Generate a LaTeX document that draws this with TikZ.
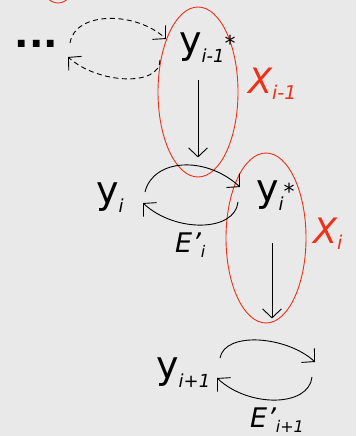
\documentclass[tikz,border=0pt]{standalone}
\usepackage{fontspec}
\setmainfont{DejaVu Sans}
\usetikzlibrary{arrows.meta,shapes.geometric}

\definecolor{xred}{RGB}{238,48,22}
\definecolor{paper}{RGB}{233,233,233}

% point y with index and optional star
\newcommand{\yv}[2]{y\raisebox{-9pt}{\fontsize{18}{18}\selectfont\itshape #1}\raisebox{2pt}{\fontsize{22}{22}\selectfont #2}}
% set X with index
\newcommand{\xv}[1]{\itshape X\raisebox{-6pt}{\fontsize{19}{19}\selectfont #1}}
% edge set E' with index
\newcommand{\ev}[1]{\itshape E'\raisebox{-5pt}{\fontsize{16}{16}\selectfont #1}}

\tikzset{
  yvar/.style={inner sep=0pt, anchor=base west, font=\fontsize{38}{44}\selectfont},
  xlab/.style={inner sep=0pt, anchor=base west, text=xred, font=\fontsize{35}{40}\selectfont},
  elab/.style={inner sep=0pt, anchor=base west, font=\fontsize{27}{32}\selectfont},
  setline/.style={draw=xred, line width=0.9pt, ellipse, minimum width=80pt, minimum height=170pt},
  tip/.style={line width=0.9pt, -{Straight Barb[length=9pt,width=19pt]}}
}

\begin{document}
\begin{tikzpicture}[x=1pt, y=-1pt]
	\fill[paper] (0,0) rectangle (356,436);
	\useasboundingbox (0,0) rectangle (356,436);

	% the sets
	\draw[xred, line width=0.9pt] (58,-17) ellipse [x radius=16pt, y radius=20pt];
	\node[setline] (Sim1) at (198,92) {};
	\node[setline] (Si) at (266,238) {};

	% the points
	\node[yvar] (dots) at (14.5,48) {\bfseries ...};
	\node[yvar] (ym1) at (179,54) {\yv{i-1}{*}};
	\node[yvar] (yi) at (96,203) {\yv{i}{}};
	\node[yvar] (yis) at (256,201) {\yv{i}{*}};
	\node[yvar] (yip1) at (156,378) {\yv{i+1}{}};

	% the labels
	\node[xlab] (Xim1) at (248,93) {\xv{i-1}};
	\node[xlab] (Xi) at (313,243) {\xv{i}};
	\node[elab] (Ei) at (175,252) {\ev{i}};
	\node[elab] (Eip1) at (250,427) {\ev{i+1}};

	% dashed loop
	\draw[tip, dash pattern=on 5pt off 3.5pt] ([xshift=55.5pt,yshift=5pt]dots.base west)
		.. controls +(5,-32) and +(-30,-28) .. ([xshift=-13pt,yshift=15pt]ym1.base west);
	\draw[tip, dash pattern=on 5pt off 3.5pt] ([xshift=-19pt,yshift=-6pt]ym1.base west)
		.. controls +(0,27) and +(30,27) .. ([xshift=53.5pt,yshift=-9pt]dots.base west);

	% vertical steps
	\draw[tip] ([yshift=12pt]Sim1.center) -- ([yshift=20pt]Sim1.south);
	\draw[tip] ([xshift=6pt,yshift=-5pt]Si.center) -- ([xshift=6pt,yshift=5pt]Si.south);

	% loops E'
	\draw[tip] ([xshift=49pt,yshift=11pt]yi.base west)
		.. controls +(8,-33) and +(-35,-32) .. ([xshift=-16pt,yshift=14pt]yis.base west);
	\draw[tip] ([xshift=-18pt,yshift=-1pt]yis.base west)
		.. controls +(-3,30) and +(32,30) .. ([xshift=47pt]yi.base west);
	\draw[tip] ([xshift=64pt,yshift=20pt]yip1.base west)
		.. controls +(5,-27) and +(-28,-26) .. ([xshift=159pt,yshift=16pt]yip1.base west);
	\draw[tip] ([xshift=156pt,yshift=1pt]yip1.base west)
		.. controls +(-3,30) and +(32,30) .. ([xshift=61pt]yip1.base west);
\end{tikzpicture}
\end{document}
